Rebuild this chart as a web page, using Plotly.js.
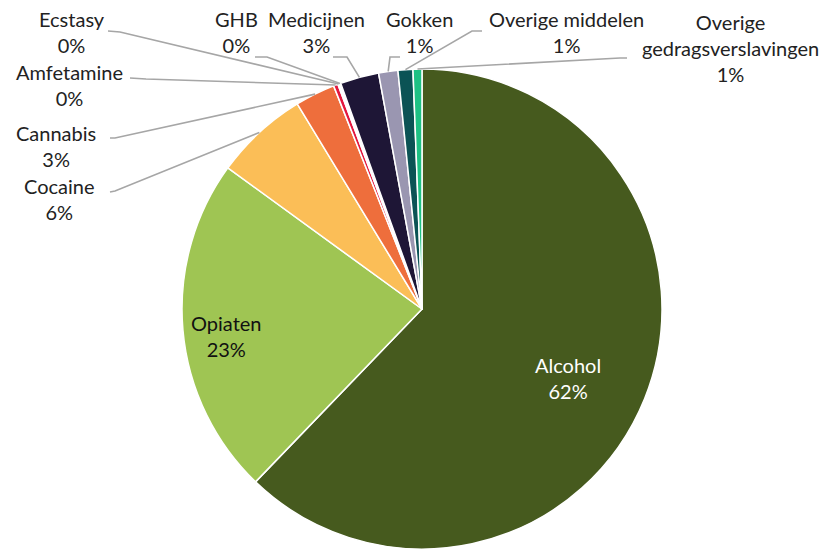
<!DOCTYPE html>
<html>
<head>
<meta charset="utf-8">
<script src="https://cdn.plot.ly/plotly-3.0.1.min.js"></script>
<style>
html,body{margin:0;padding:0;background:#fff;}
#chart{width:821px;height:549px;}
</style>
</head>
<body>
<div id="chart"></div>
<script>
// ---- data ----
const labels = ['Alcohol','Opiaten','Cocaine','Cannabis','Amfetamine','Ecstasy','GHB','Medicijnen','Gokken','Overige middelen','Overige gedragsverslavingen'];
const displayNames = ['Alcohol','Opiaten','Cocaine','Cannabis','Amfetamine','Ecstasy','GHB','Medicijnen','Gokken','Overige middelen','Overige<br>gedragsverslavingen'];
const values = [62.2, 22.8, 6.3, 2.7, 0.3, 0.1, 0.1, 2.6, 1.3, 1.0, 0.6];
const colors = ['#465A1E','#9FC553','#FBBE57','#EE6E3C','#E3173E','#F4A6B8','#C9C9D6','#1E1636','#9A96B1','#0B5355','#1DC184'];

// ---- layout constants (pixels) ----
const W = 821, H = 549;
const pieCx = 422, pieHalfW = 246, pieH = 480;
const domX = [(pieCx - pieHalfW) / W, (pieCx + pieHalfW) / W];
const domY = [0, pieH / H];
// label centres [x, y] in pixels
const labelPos = [[568,378],[226,336],[59,199],[56,146],[69,85],[72,32],[236,32],[316,32],[420,32],[566,32],[730,48]];
const labelColor = ['#FFFFFF','#111111','#222','#222','#222','#222','#222','#222','#222','#222','#222'];
// leader line stubs: [startX, startY, bendX, bendY] or null
const stubs = [null, null, [110,192,115,191],[110,138,115,138],[130,78,146,79],[108,31,120,32],[255,57,267,57],[333,57,347,57],[400,57,390,57],[482,31,472,31],[627,58,620,58]];

const px = x => x / W;
const py = y => 1 - y / H;

const total = values.reduce((a,b)=>a+b,0);
const R = Math.min(pieHalfW*2, pieH) / 2;
const cx = (domX[0]+domX[1])/2*W;
const cy = H - (domY[0]+domY[1])/2*H;

const annotations = [];
const shapes = [];
let cum = 0;
values.forEach((v,i)=>{
  const f = (cum + v/2) / total;
  cum += v;
  const th = 2*Math.PI*f;
  const ex = cx + R*Math.sin(th), ey = cy - R*Math.cos(th);
  const pct = Math.round(v/total*100) + '%';
  annotations.push({
    x: px(labelPos[i][0]), y: py(labelPos[i][1]), xref:'paper', yref:'paper',
    xanchor:'center', yanchor:'middle', showarrow:false, align:'center',
    text: displayNames[i] + '<br>' + pct,
    font:{family:'Lato, "Open Sans", sans-serif', size:20, color:labelColor[i]}
  });
  const s = stubs[i];
  if (s) {
    shapes.push({
      type:'path', xref:'paper', yref:'paper',
      path:`M ${px(s[0])},${py(s[1])} L ${px(s[2])},${py(s[3])} L ${px(ex)},${py(ey)}`,
      line:{color:'#A6A6A6', width:1.6}
    });
  }
});

const trace = {
  type:'pie', labels: labels, values: values, sort:false, direction:'clockwise', rotation:0,
  marker:{colors: colors, line:{color:'#FFFFFF', width:1.5}},
  textinfo:'none', hoverinfo:'none',
  domain:{x:domX, y:domY}
};

Plotly.newPlot('chart',[trace],{
  width:W, height:H, margin:{l:0,r:0,t:0,b:0}, showlegend:false,
  paper_bgcolor:'#fff', annotations: annotations, shapes: shapes
},{staticPlot:true});
</script>
</body>
</html>
